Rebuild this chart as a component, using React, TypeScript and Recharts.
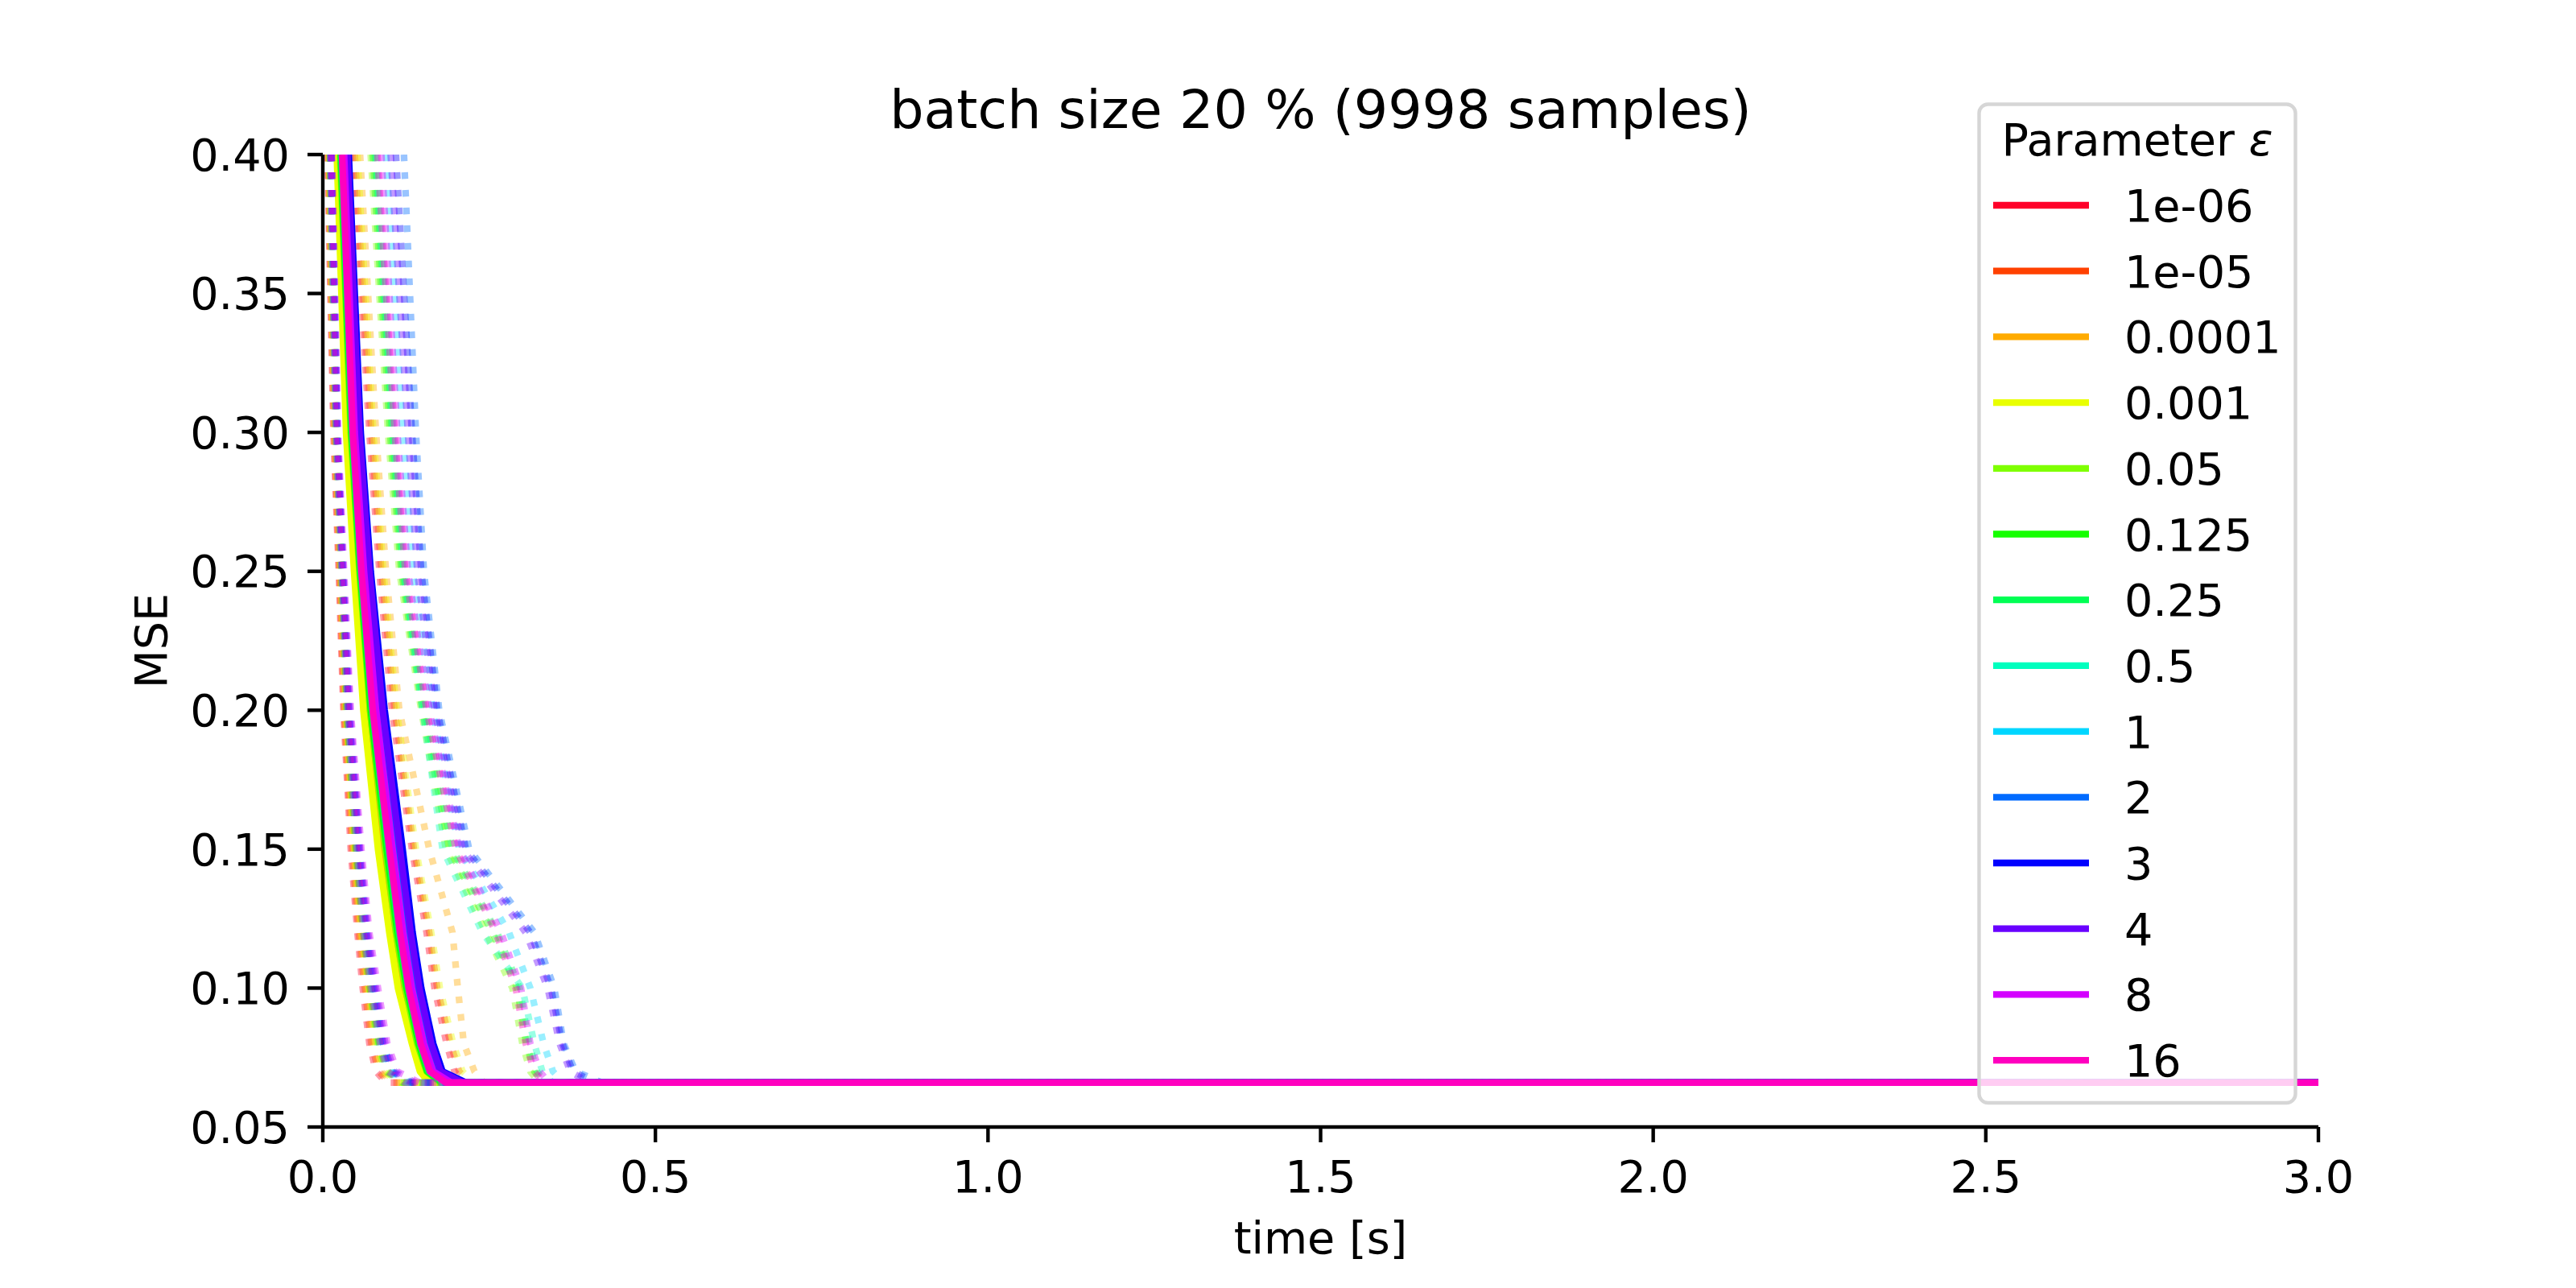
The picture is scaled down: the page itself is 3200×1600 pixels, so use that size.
import { LineChart, Line, XAxis, YAxis, Legend, Customized } from "recharts"

// epsilon values shown in the legend, and their gist_rainbow colours
const epsilonLabels = ["1e-06", "1e-05", "0.0001", "0.001", "0.05", "0.125", "0.25", "0.5", "1", "2", "3", "4", "8", "16"]
const epsilonColors = [
  "#ff0029", "#ff4100", "#ffab00", "#e9ff00", "#7fff00", "#15ff00", "#00ff54",
  "#00ffbe", "#00d6ff", "#006bff", "#0001ff", "#6900ff", "#d400ff", "#ff00bf",
]

const mseLevels = [0.40, 0.30, 0.25, 0.20, 0.15, 0.12, 0.10, 0.08, 0.07, 0.066]
const endTime = 3.0

// solid curves: time [s] reached at each MSE level (one row per epsilon)
const solidTimes = [
  [0.024, 0.038, 0.051, 0.066, 0.089, 0.105, 0.119, 0.137, 0.150, 0.168],
  [0.023, 0.037, 0.050, 0.064, 0.087, 0.104, 0.117, 0.135, 0.149, 0.166],
  [0.025, 0.039, 0.052, 0.067, 0.090, 0.107, 0.121, 0.139, 0.152, 0.171],
  [0.021, 0.035, 0.047, 0.061, 0.083, 0.100, 0.113, 0.134, 0.146, 0.160],
  [0.026, 0.042, 0.055, 0.071, 0.094, 0.110, 0.124, 0.142, 0.156, 0.177],
  [0.027, 0.043, 0.056, 0.072, 0.096, 0.112, 0.126, 0.144, 0.157, 0.179],
  [0.028, 0.044, 0.057, 0.074, 0.098, 0.114, 0.128, 0.146, 0.159, 0.182],
  [0.033, 0.049, 0.063, 0.082, 0.107, 0.123, 0.136, 0.154, 0.168, 0.196],
  [0.035, 0.053, 0.067, 0.087, 0.113, 0.128, 0.141, 0.159, 0.173, 0.204],
  [0.035, 0.052, 0.066, 0.085, 0.111, 0.126, 0.139, 0.157, 0.171, 0.201],
  [0.039, 0.057, 0.072, 0.093, 0.120, 0.135, 0.148, 0.166, 0.180, 0.215],
  [0.037, 0.055, 0.070, 0.090, 0.116, 0.132, 0.145, 0.163, 0.177, 0.210],
  [0.032, 0.048, 0.062, 0.080, 0.105, 0.121, 0.134, 0.152, 0.166, 0.193],
  [0.029, 0.045, 0.058, 0.075, 0.100, 0.116, 0.129, 0.147, 0.161, 0.185],
]

// fast dotted curves (leftmost bundle)
const fastDottedTimes = [
  [0.007, 0.016, 0.024, 0.031, 0.042, 0.052, 0.060, 0.070, 0.080, 0.095],
  [0.008, 0.017, 0.025, 0.032, 0.044, 0.054, 0.063, 0.073, 0.084, 0.100],
  [0.009, 0.018, 0.026, 0.033, 0.046, 0.056, 0.065, 0.076, 0.087, 0.106],
  [0.009, 0.018, 0.027, 0.035, 0.047, 0.058, 0.068, 0.079, 0.091, 0.111],
  [0.010, 0.019, 0.028, 0.036, 0.049, 0.060, 0.070, 0.082, 0.094, 0.117],
  [0.011, 0.020, 0.028, 0.036, 0.050, 0.061, 0.071, 0.084, 0.096, 0.120],
  [0.011, 0.020, 0.029, 0.037, 0.051, 0.062, 0.073, 0.085, 0.098, 0.122],
  [0.011, 0.020, 0.029, 0.038, 0.052, 0.063, 0.074, 0.087, 0.099, 0.125],
  [0.012, 0.021, 0.029, 0.038, 0.053, 0.064, 0.075, 0.088, 0.101, 0.128],
  [0.012, 0.021, 0.030, 0.039, 0.054, 0.065, 0.076, 0.090, 0.103, 0.131],
  [0.013, 0.022, 0.030, 0.039, 0.055, 0.066, 0.078, 0.091, 0.105, 0.134],
  [0.013, 0.022, 0.031, 0.041, 0.056, 0.068, 0.080, 0.094, 0.108, 0.139],
  [0.014, 0.023, 0.032, 0.042, 0.058, 0.070, 0.083, 0.097, 0.112, 0.145],
  [0.011, 0.019, 0.028, 0.037, 0.051, 0.061, 0.072, 0.086, 0.097, 0.123],
]

// slow dotted curves (the two bundles further right)
const slowDottedTimes = [
  [0.045, 0.070, 0.085, 0.104, 0.134, 0.156, 0.168, 0.186, 0.198, 0.215],
  [0.048, 0.073, 0.088, 0.108, 0.137, 0.160, 0.172, 0.192, 0.205, 0.222],
  [0.056, 0.080, 0.095, 0.115, 0.160, 0.195, 0.203, 0.212, 0.228, 0.242],
  [0.052, 0.076, 0.091, 0.111, 0.140, 0.163, 0.176, 0.196, 0.210, 0.228],
  [0.072, 0.098, 0.115, 0.148, 0.185, 0.245, 0.285, 0.300, 0.312, 0.325],
  [0.075, 0.101, 0.118, 0.150, 0.190, 0.255, 0.292, 0.306, 0.318, 0.330],
  [0.078, 0.104, 0.120, 0.153, 0.195, 0.262, 0.296, 0.310, 0.322, 0.334],
  [0.080, 0.106, 0.122, 0.150, 0.180, 0.240, 0.300, 0.318, 0.330, 0.345],
  [0.095, 0.120, 0.135, 0.165, 0.205, 0.280, 0.312, 0.332, 0.346, 0.362],
  [0.122, 0.140, 0.152, 0.175, 0.220, 0.318, 0.348, 0.362, 0.380, 0.420],
  [0.110, 0.134, 0.148, 0.172, 0.215, 0.312, 0.343, 0.360, 0.376, 0.410],
  [0.102, 0.128, 0.142, 0.168, 0.210, 0.305, 0.338, 0.356, 0.372, 0.400],
  [0.088, 0.112, 0.128, 0.160, 0.205, 0.268, 0.298, 0.312, 0.326, 0.340],
  [0.082, 0.108, 0.124, 0.156, 0.200, 0.260, 0.290, 0.305, 0.318, 0.332],
]

const xTicks = [0, 0.5, 1.0, 1.5, 2.0, 2.5, 3.0]
const yTicks = [0.05, 0.10, 0.15, 0.20, 0.25, 0.30, 0.35, 0.40]

const FONT = "'DejaVu Sans', sans-serif"
const LW = 8.3

const toPoints = (times: number[]) => [
  ...times.map((t, i) => ({ t, mse: mseLevels[i] })),
  { t: endTime, mse: mseLevels[mseLevels.length - 1] },
]

function ChartTexts() {
  return (
    <g fontFamily={FONT} fill="#000">
      <text x={1640.5} y={159} fontSize={66.7} textAnchor="middle">batch size 20 % (9998 samples)</text>
      <text x={1640.5} y={1557} fontSize={55.6} textAnchor="middle">time [s]</text>
      <text x={207} y={796} fontSize={55.6} textAnchor="middle" transform="rotate(-90 207 796)">MSE</text>
    </g>
  )
}

function LegendBox() {
  return (
    <svg width={402} height={1250} style={{ display: "block" }}>
      <rect x={4.5} y={4.5} width={393} height={1240.5} rx={11} fill="#fff" fillOpacity={0.8} stroke="#d6d6d6" strokeWidth={4.4} />
      <text x={201} y={68} fontFamily={FONT} fontSize={55.6} textAnchor="middle">
        Parameter <tspan fontStyle="italic">ε</tspan>
      </text>
      {epsilonLabels.map((label, i) => (
        <g key={label}>
          <line x1={22} x2={141} y1={130 + i * 81.7} y2={130 + i * 81.7} stroke={epsilonColors[i]} strokeWidth={LW} />
          <text x={185} y={150 + i * 81.7} fontFamily={FONT} fontSize={55.6}>{label}</text>
        </g>
      ))}
    </svg>
  )
}

export default function App() {
  const axisStroke = { stroke: "#000", strokeWidth: 4.4 }
  return (
    <div style={{ position: "absolute", left: 0, top: 0, width: 3200, height: 1600, background: "#fff" }}>
      <LineChart width={3200} height={1600} margin={{ top: 192, right: 320, bottom: 50, left: 251 }}>
        <XAxis
          type="number"
          dataKey="t"
          domain={[0, 3]}
          ticks={xTicks}
          tickFormatter={(v: number) => v.toFixed(1)}
          height={150}
          axisLine={axisStroke}
          tickLine={axisStroke}
          tickSize={19}
          tickMargin={23}
          tick={{ fill: "#000", fontSize: 55.6, fontFamily: FONT }}
          allowDataOverflow
        />
        <YAxis
          type="number"
          dataKey="mse"
          domain={[0.05, 0.4]}
          ticks={yTicks}
          tickFormatter={(v: number) => v.toFixed(2)}
          width={150}
          axisLine={axisStroke}
          tickLine={axisStroke}
          tickSize={19}
          tickMargin={22}
          tick={{ fill: "#000", fontSize: 55.6, fontFamily: FONT }}
          allowDataOverflow
        />
        {epsilonLabels.map((label, i) => [
          <Line
            key={`fast-${label}`}
            data={toPoints(fastDottedTimes[i])}
            dataKey="mse"
            type="linear"
            stroke={epsilonColors[i]}
            strokeOpacity={0.4}
            strokeWidth={LW}
            strokeDasharray="8.3 13.7"
            dot={false}
            activeDot={false}
            legendType="none"
            isAnimationActive={false}
          />,
          <Line
            key={`slow-${label}`}
            data={toPoints(slowDottedTimes[i])}
            dataKey="mse"
            type="linear"
            stroke={epsilonColors[i]}
            strokeOpacity={0.4}
            strokeWidth={LW}
            strokeDasharray="8.3 13.7"
            dot={false}
            activeDot={false}
            legendType="none"
            isAnimationActive={false}
          />,
          <Line
            key={`solid-${label}`}
            data={toPoints(solidTimes[i])}
            dataKey="mse"
            type="linear"
            stroke={epsilonColors[i]}
            strokeWidth={LW}
            strokeLinejoin="round"
            dot={false}
            activeDot={false}
            name={label}
            isAnimationActive={false}
          />,
        ])}
        <Customized component={<ChartTexts />} />
        <Legend
          layout="horizontal"
          align="center"
          verticalAlign="middle"
          wrapperStyle={{ left: 2454, top: 125, width: 402, height: 1250, lineHeight: 0 }}
          content={() => <LegendBox />}
        />
      </LineChart>
    </div>
  )
}
